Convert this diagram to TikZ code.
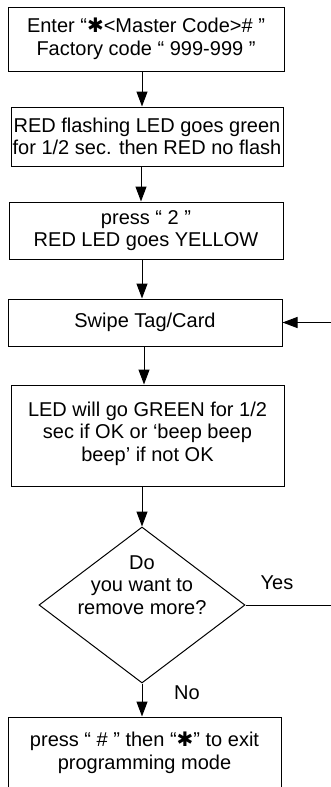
\documentclass[tikz,border=0pt]{standalone}
\usepackage{fontspec}
\setmainfont{Liberation Sans}
\newfontfamily\starfont{DejaVu Sans}
\usetikzlibrary{arrows.meta,shapes.geometric}
\newcommand{\keystar}{{\starfont ✱}}

\begin{document}
\begin{tikzpicture}[x=1pt,y=-1pt,line width=1pt,
    every node/.style={font=\fontsize{20}{22.5}\selectfont},
    box/.style={draw,rectangle,align=center,inner sep=0pt},
    arr/.style={-{Triangle[length=15pt,width=11pt]}}]
    \useasboundingbox (0,0) rectangle (330,787);

    \node[box,minimum width=276pt,minimum height=64pt] (Enter) at(146,39)
         {Enter “\keystar<Master Code>\# ”\\Factory code “ 999-999 ”};
    \node[box,minimum width=272pt,minimum height=59pt] (Flash) at(147,136.5)
         {RED flashing LED goes green\\for 1/2 sec. then RED no flash};
    \node[box,minimum width=274pt,minimum height=57pt] (Press) at(146,230.5)
         {press “ 2 ”\\RED LED goes YELLOW};
    \node[box,minimum width=274pt,minimum height=47pt] (Swipe) at(145,322.5)
         {Swipe Tag/Card};
    \node[box,minimum width=273pt,minimum height=101pt] (Green) at(147.5,435.5)
         {LED will go GREEN for 1/2\\sec if OK or ‘beep beep\\beep’ if not OK\\[-14.5pt]};
    \node[draw,diamond,minimum width=206pt,minimum height=156pt,inner sep=0pt] (More) at(142,605) {};
    \node[align=center] (MoreText) at(142,585) {Do\\you want to\\remove more?};
    \node[box,minimum width=273pt,minimum height=72pt] (Exit) at(144.5,753)
         {press “ \# ” then “\keystar” to exit\\programming mode};

    \coordinate (Back) at(345,605);

    \draw[arr] (Enter.south -| 142,0) -- (Flash.north -| 142,0);
    \draw[arr] (Flash.south -| 141,0) -- (Press.north -| 141,0);
    \draw[arr] (Press.south -| 142,0) -- (Swipe.north -| 142,0);
    \draw[arr] (Swipe.south -| 144,0) -- (Green.north -| 144,0);
    \draw[arr] (Green.south -| 142,0) -- (More.north);
    \draw[arr] (More.south) -- (Exit.north -| More.south);
    \draw[arr] (More.east) -- (Back) |- (Swipe.east);
    \node (Yes) at(277,583) {Yes};
    \node (No) at(187,693) {No};

\end{tikzpicture}
\end{document}
